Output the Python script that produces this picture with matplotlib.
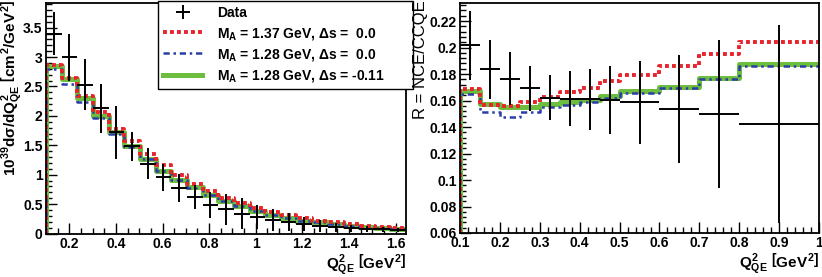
import numpy as np
import matplotlib
matplotlib.use('Agg')
import matplotlib.pyplot as plt
from matplotlib.ticker import MultipleLocator, FuncFormatter

plt.rcParams['font.family'] = ['Liberation Sans', 'DejaVu Sans']
plt.rcParams['font.weight'] = 'bold'
plt.rcParams['mathtext.fontset'] = 'custom'
plt.rcParams['mathtext.rm'] = 'Liberation Sans:bold'
plt.rcParams['mathtext.it'] = 'Liberation Sans:bold'
plt.rcParams['mathtext.bf'] = 'Liberation Sans:bold'
plt.rcParams['mathtext.sf'] = 'Liberation Sans:bold'

# ---- left panel: NCE differential cross section ----
xs_edges = [0.1, 0.167, 0.234, 0.302, 0.369, 0.436, 0.503, 0.570, 0.638, 0.705,
            0.772, 0.839, 0.906, 0.974, 1.041, 1.108, 1.175, 1.242, 1.310, 1.377,
            1.444, 1.511, 1.578, 1.645]
xs_data = [3.40, 3.00, 2.53, 2.13, 1.72, 1.48, 1.19, 0.96, 0.77, 0.62, 0.49, 0.41,
           0.34, 0.28, 0.23, 0.20, 0.16, 0.13, 0.105, 0.09, 0.08, 0.07, 0.06]
xs_err = [0.36, 0.40, 0.43, 0.42, 0.45, 0.24, 0.27, 0.23, 0.24, 0.21, 0.22, 0.27,
          0.26, 0.21, 0.19, 0.15, 0.12, 0.10, 0.08, 0.06, 0.05, 0.04, 0.03]
xs_ma137 = [2.87, 2.64, 2.34, 2.06, 1.78, 1.57, 1.36, 1.16, 0.99, 0.85, 0.72, 0.61,
            0.52, 0.44, 0.37, 0.31, 0.27, 0.22, 0.19, 0.16, 0.13, 0.11, 0.10]
xs_ma128 = [2.79, 2.54, 2.23, 1.97, 1.70, 1.47, 1.26, 1.07, 0.91, 0.78, 0.65, 0.55,
            0.46, 0.38, 0.32, 0.27, 0.22, 0.19, 0.16, 0.13, 0.11, 0.09, 0.07]
xs_ds011 = [2.85, 2.62, 2.30, 2.00, 1.72, 1.48, 1.26, 1.07, 0.91, 0.79, 0.65, 0.56,
            0.46, 0.38, 0.32, 0.27, 0.22, 0.19, 0.16, 0.13, 0.11, 0.09, 0.07]

# ---- right panel: NCE/CCQE ratio ----
r_edges = [0.1, 0.15, 0.2, 0.25, 0.3, 0.35, 0.4, 0.45, 0.5, 0.6, 0.7, 0.8, 1.0]
r_data = [0.2017, 0.1835, 0.1765, 0.1694, 0.1620, 0.1615, 0.1610, 0.1604,
          0.1585, 0.1535, 0.1500, 0.1424]
r_err = [0.026, 0.0225, 0.020, 0.017, 0.017, 0.021, 0.023, 0.026,
         0.031, 0.041, 0.056, 0.0746]
r_ma137 = [0.1684, 0.1564, 0.1558, 0.1589, 0.1626, 0.1666, 0.1692, 0.1745,
           0.1795, 0.1858, 0.1949, 0.2039]
r_ma128 = [0.1647, 0.1513, 0.1473, 0.1513, 0.1553, 0.1566, 0.1589, 0.1619,
           0.1657, 0.1692, 0.1760, 0.1858]
r_ds011 = [0.1670, 0.1570, 0.1553, 0.1549, 0.1574, 0.1586, 0.1604, 0.1634,
           0.1672, 0.1704, 0.1770, 0.1873]

labels = ['Data',
          r'$M_{A}$ = 1.37 GeV, Δs =  0.0',
          r'$M_{A}$ = 1.28 GeV, Δs =  0.0',
          r'$M_{A}$ = 1.28 GeV, Δs = -0.11']

RED = '#e8232b'
BLUE = '#2b3ea6'
GREEN = '#6dbd3e'


def draw_hist(ax, edges, vals, floor, **kw):
    x = [edges[0]] + list(edges)
    y = [floor] + list(vals) + [vals[-1]]
    return ax.plot(x, y, drawstyle='steps-post', **kw)[0]


def draw_panel(ax, edges, data, err, ma137, ma128, ds011, floor):
    edges = np.array(edges)
    centers = 0.5 * (edges[1:] + edges[:-1])
    half = 0.5 * (edges[1:] - edges[:-1])
    h3 = draw_hist(ax, edges, ds011, floor, color=GREEN, lw=3.6)
    h2 = draw_hist(ax, edges, ma128, floor, color=BLUE, lw=1.8,
                   linestyle=(0, (2.5, 1.5, 1, 1.5)))
    h1 = draw_hist(ax, edges, ma137, floor, color=RED, lw=2.8,
                   linestyle=(0, (1, 0.8)))
    hd = ax.errorbar(centers, data, yerr=err, xerr=half, fmt='none',
                     ecolor='black', elinewidth=1.4, capsize=0, zorder=5)
    ax.tick_params(which='both', direction='in', top=False, right=False,
                   labelsize=10, width=1, pad=2.5)
    ax.tick_params(which='major', length=8)
    ax.tick_params(which='minor', length=4)
    for s in ax.spines.values():
        s.set_linewidth(1.3)
    ax.xaxis.set_major_formatter(FuncFormatter(lambda v, p: '%g' % round(v, 4)))
    ax.yaxis.set_major_formatter(FuncFormatter(lambda v, p: '%g' % round(v, 4)))
    return hd, h1, h2, h3


fig = plt.figure(figsize=(8.22, 2.77), dpi=100)
W, H = 822.0, 277.0
ax1 = fig.add_axes([46 / W, (H - 233.5) / H, 360 / W, 230.5 / H])
ax2 = fig.add_axes([460 / W, (H - 233) / H, 359 / W, 230 / H])

xlab = r'$Q^{2}_{QE}\ \left[GeV^{2}\right]$'

handles = draw_panel(ax1, xs_edges, xs_data, xs_err, xs_ma137, xs_ma128, xs_ds011, 0.0)
ax1.set_xlim(0.1, 1.645)
ax1.set_ylim(0, 3.92)
ax1.xaxis.set_major_locator(MultipleLocator(0.2))
ax1.xaxis.set_minor_locator(MultipleLocator(0.05))
ax1.yaxis.set_major_locator(MultipleLocator(0.5))
ax1.yaxis.set_minor_locator(MultipleLocator(0.1))
ax1.set_xlabel(xlab, fontsize=11, loc='right')
ax1.xaxis.set_label_coords(1.0, -0.079)
ax1.set_ylabel(r'$10^{39}d\sigma/dQ^{2}_{QE}\ \left[cm^{2}/GeV^{2}\right]$',
               fontsize=11, loc='top')
ax1.yaxis.set_label_coords(-0.064, 1.013)

draw_panel(ax2, r_edges, r_data, r_err, r_ma137, r_ma128, r_ds011, 0.06)
ax2.set_xlim(0.1, 1.0)
ax2.set_ylim(0.06, 0.2336)
ax2.xaxis.set_major_locator(MultipleLocator(0.1))
ax2.xaxis.set_minor_locator(MultipleLocator(0.02))
ax2.yaxis.set_major_locator(MultipleLocator(0.02))
ax2.yaxis.set_minor_locator(MultipleLocator(0.004))
ax2.set_xlabel(xlab, fontsize=11, loc='right')
ax2.xaxis.set_label_coords(1.0, -0.079)
ax2.set_ylabel('R = NCE/CCQE', fontsize=12, loc='top')
ax2.yaxis.set_label_coords(-0.089, 1.013)

leg = ax1.legend(handles, labels, loc='upper left',
                 bbox_to_anchor=(158 / W, (H - 88) / H, 255 / W, 87 / H),
                 bbox_transform=fig.transFigure, mode='expand',
                 fontsize=10, fancybox=False, edgecolor='black', framealpha=1,
                 borderaxespad=0, handlelength=2.8, handletextpad=1.1,
                 labelspacing=0.38, borderpad=0.38)
leg.get_frame().set_linewidth(1.0)
leg.set_zorder(10)

fig.savefig('out.png', dpi=100)
